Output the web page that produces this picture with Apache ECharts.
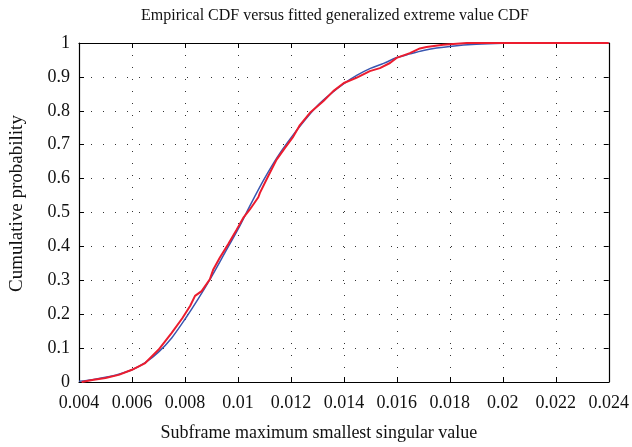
<!DOCTYPE html>
<html>
<head>
<meta charset="utf-8">
<script src="https://cdn.jsdelivr.net/npm/echarts@6/dist/echarts.min.js"></script>
<style>
  html, body { margin: 0; padding: 0; background: #fff; }
  #chart { width: 632px; height: 447px; }
</style>
</head>
<body>
<div id="chart"></div>
<script>
// fitted GEV cdf (blue)
const fitX = [0.004, 0.0045, 0.005, 0.0055, 0.006, 0.0065, 0.007, 0.0075, 0.008, 0.0085,
  0.009, 0.0095, 0.010, 0.0105, 0.011, 0.0115, 0.012, 0.0125, 0.013, 0.0135,
  0.014, 0.0145, 0.015, 0.0155, 0.016, 0.0165, 0.017, 0.0175, 0.018, 0.019,
  0.020, 0.021, 0.022, 0.024]
const fitY = [0.002, 0.007, 0.014, 0.023, 0.036, 0.057, 0.088, 0.13, 0.185, 0.245,
  0.31, 0.38, 0.45, 0.527, 0.60, 0.665, 0.72, 0.77, 0.815, 0.85,
  0.88, 0.905, 0.925, 0.94, 0.957, 0.968, 0.978, 0.985, 0.99, 0.996,
  0.999, 1, 1, 1]

// empirical cdf (red)
const empX = [0.0041, 0.0045, 0.005, 0.0055, 0.006, 0.0065, 0.007, 0.0075, 0.0079, 0.0082,
  0.00838, 0.00863, 0.00894, 0.00907, 0.00932, 0.00963, 0.00994, 0.0102, 0.01045, 0.01077,
  0.01083, 0.01114, 0.01146, 0.01177, 0.01209, 0.01234, 0.01272, 0.01322, 0.0136, 0.014,
  0.01447, 0.01498, 0.01536, 0.01574, 0.01599, 0.01649, 0.01687, 0.01712, 0.01775, 0.01864,
  0.024]
const empY = [0.0, 0.006, 0.012, 0.021, 0.036, 0.056, 0.095, 0.145, 0.188, 0.225,
  0.254, 0.268, 0.303, 0.332, 0.367, 0.406, 0.448, 0.484, 0.509, 0.545,
  0.558, 0.607, 0.656, 0.69, 0.724, 0.758, 0.794, 0.828, 0.858, 0.882,
  0.897, 0.917, 0.926, 0.941, 0.956, 0.97, 0.984, 0.988, 0.995, 1.0,
  1.0]

const xTicks = ['0.004', '0.006', '0.008', '0.01', '0.012', '0.014', '0.016', '0.018', '0.02', '0.022', '0.024']
const yTicks = ['0', '0.1', '0.2', '0.3', '0.4', '0.5', '0.6', '0.7', '0.8', '0.9', '1']

const serif = 'Liberation Serif'
const dotted = { color: '#333', width: 1, type: [1, 11] }

const chart = echarts.init(document.getElementById('chart'))

const baseX = {
  type: 'value',
  min: 0.004,
  max: 0.024,
  interval: 0.002,
  axisLine: { onZero: false, lineStyle: { color: '#000', width: 1.2 } },
  axisTick: { inside: true, length: 5, lineStyle: { color: '#000' } },
  splitLine: { show: false }
}
const baseY = {
  type: 'value',
  min: 0,
  max: 1,
  interval: 0.1,
  axisLine: { onZero: false, lineStyle: { color: '#000', width: 1.2 } },
  axisTick: { inside: true, length: 5, lineStyle: { color: '#000' } },
  splitLine: { show: false }
}

chart.setOption({
  animation: false,
  title: {
    text: 'Empirical CDF versus fitted generalized extreme value CDF',
    left: 136,
    top: 3,
    textStyle: { fontFamily: serif, fontSize: 16, fontWeight: 'normal', color: '#111' }
  },
  grid: { left: 79, right: 23, top: 43, bottom: 64 },
  xAxis: [
    Object.assign({}, baseX, {
      position: 'bottom',
      name: 'Subframe maximum smallest singular value',
      nameLocation: 'middle',
      nameGap: 42,
      nameTextStyle: { fontFamily: serif, fontSize: 18, color: '#111', padding: [0, 50, 0, 0] },
      splitLine: { show: true, lineStyle: dotted },
      axisLabel: {
        margin: 12,
        fontFamily: serif, fontSize: 18, color: '#111',
        formatter: (v) => xTicks[Math.round((v - 0.004) / 0.002)]
      }
    }),
    Object.assign({}, baseX, { position: 'top', axisLabel: { show: false } })
  ],
  yAxis: [
    Object.assign({}, baseY, {
      position: 'left',
      name: 'Cumulative probability',
      nameLocation: 'middle',
      nameGap: 52,
      nameTextStyle: { fontFamily: serif, fontSize: 19, color: '#111', padding: [0, 0, 0, 18] },
      splitLine: { show: true, lineStyle: dotted },
      axisLabel: {
        margin: 9,
        fontFamily: serif, fontSize: 18, color: '#111',
        formatter: (v) => yTicks[Math.round(v * 10)]
      }
    }),
    Object.assign({}, baseY, { position: 'right', axisLabel: { show: false } })
  ],
  series: [
    {
      name: 'fitted',
      type: 'line',
      showSymbol: false,
      smooth: 0.3,
      lineStyle: { color: '#3a56b0', width: 1.5 },
      data: fitX.map((x, i) => [x, fitY[i]])
    },
    {
      name: 'empirical',
      type: 'line',
      showSymbol: false,
      lineStyle: { color: '#ec1c2e', width: 2 },
      data: empX.map((x, i) => [x, empY[i]])
    }
  ]
})
</script>
</body>
</html>
